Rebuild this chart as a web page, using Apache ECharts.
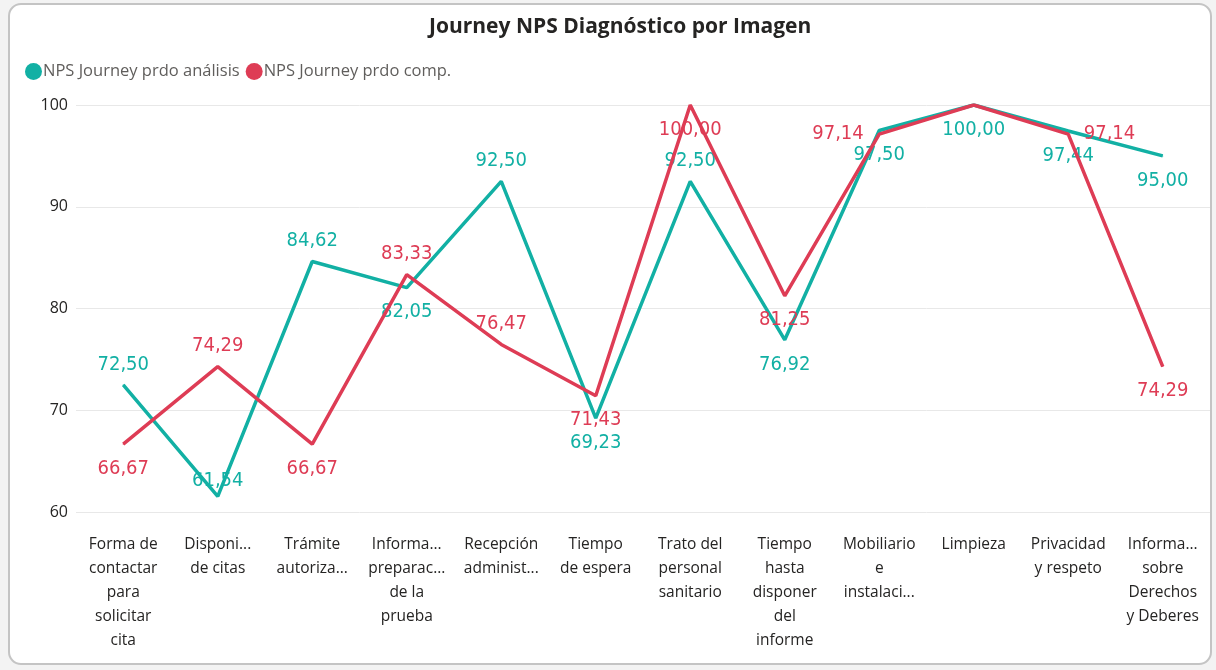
<!DOCTYPE html>
<html>
<head>
<meta charset="utf-8">
<script src="https://cdn.jsdelivr.net/npm/echarts@6/dist/echarts.min.js"></script>
<style>
  html, body { margin: 0; padding: 0; background: #f3f3f3; }
  #nps-chart { width: 1216px; height: 670px; }
</style>
</head>
<body>
<div id="nps-chart"></div>
<script>
// categorias tal como se ven en el eje (ya recortadas)
const categories = [
  "Forma de\ncontactar\npara\nsolicitar\ncita",
  "Disponi...\nde citas",
  "Trámite\nautoriza...",
  "Informa...\npreparac...\nde la\nprueba",
  "Recepción\nadminist...",
  "Tiempo\nde espera",
  "Trato del\npersonal\nsanitario",
  "Tiempo\nhasta\ndisponer\ndel\ninforme",
  "Mobiliario\ne\ninstalaci...",
  "Limpieza",
  "Privacidad\ny respeto",
  "Informa...\nsobre\nDerechos\ny Deberes"
];
const analisis = [72.50, 61.54, 84.62, 82.05, 92.50, 69.23, 92.50, 76.92, 97.50, 100.00, 97.44, 95.00];
const comp = [66.67, 74.29, 66.67, 83.33, 76.47, 71.43, 100.00, 81.25, 97.14, 100.00, 97.14, 74.29];
const yTicks = [60, 70, 80, 90, 100];

// posicion de etiqueta por punto (como en Power BI)
const posAnalisis = ["top", "top", "top", "bottom", "top", "bottom", "top", "bottom", "bottom", "bottom", "bottom", "bottom"];
const posComp = ["bottom", "top", "bottom", "top", "top", "bottom", "bottom", "bottom", "left", null, "right", "bottom"];

const TEAL = "#12b0a4";
const RED = "#de3c55";
const fmt = v => v.toFixed(2).replace(".", ",");

function buildData(values, positions, color) {
  return values.map((v, i) => {
    const p = positions[i];
    if (p === null) return { value: v, label: { show: false } };
    const side = p === "left" || p === "right";
    let dist = side ? 15 : 12;
    // el 61,54 queda pegado a la linea en el original
    if (color === TEAL && i === 1) dist = 7;
    return {
      value: v,
      label: {
        show: true,
        position: p,
        distance: dist,
        offset: [0, side ? 0 : 2],
        color: color
      }
    };
  });
}

const chart = echarts.init(document.getElementById("nps-chart"));

const labelFont = {
  show: true,
  fontFamily: "DejaVu Sans Condensed",
  fontSize: 20,
  formatter: p => fmt(p.value)
};

chart.setOption({
  animation: false,
  graphic: [
    {
      type: "rect",
      z: -10,
      shape: { x: 9, y: 4, width: 1202, height: 660, r: 12 },
      style: { fill: "#ffffff", stroke: "#c4c4c4", lineWidth: 2 }
    }
  ],
  title: {
    text: "Journey NPS Diagnóstico por Imagen",
    left: 424,
    top: 12,
    textStyle: {
      fontFamily: "Open Sans",
      fontWeight: "bold",
      fontSize: 21,
      color: "#252423"
    }
  },
  legend: {
    left: 20,
    top: 58,
    icon: "circle",
    itemWidth: 17,
    itemHeight: 17,
    itemGap: 6,
    textStyle: {
      fontFamily: "Open Sans",
      fontSize: 16.5,
      color: "#605e5c",
      padding: [0, 0, 0, -4]
    },
    data: ["NPS Journey prdo análisis", "NPS Journey prdo comp."]
  },
  grid: {
    left: 76,
    right: 6,
    top: 105,
    bottom: 158
  },
  xAxis: {
    type: "category",
    data: categories,
    boundaryGap: true,
    axisLine: { show: false },
    axisTick: { show: false },
    axisLabel: {
      interval: 0,
      margin: 21,
      fontFamily: "Open Sans",
      fontSize: 15.5,
      lineHeight: 24,
      color: "#252423"
    }
  },
  yAxis: {
    type: "value",
    min: yTicks[0],
    max: yTicks[yTicks.length - 1],
    interval: 10,
    axisLine: { show: false },
    axisTick: { show: false },
    axisLabel: {
      margin: 8,
      fontFamily: "Open Sans",
      fontSize: 16,
      color: "#252423"
    },
    splitLine: { lineStyle: { color: "#e8e8e8", width: 1 } }
  },
  series: [
    {
      name: "NPS Journey prdo análisis",
      type: "line",
      data: buildData(analisis, posAnalisis, TEAL),
      symbol: "circle",
      symbolSize: 1,
      itemStyle: { color: TEAL },
      lineStyle: { color: TEAL, width: 3.5 },
      label: labelFont,
      z: 2
    },
    {
      name: "NPS Journey prdo comp.",
      type: "line",
      data: buildData(comp, posComp, RED),
      symbol: "circle",
      symbolSize: 1,
      itemStyle: { color: RED },
      lineStyle: { color: RED, width: 3.5 },
      label: labelFont,
      z: 3
    }
  ]
});
</script>
</body>
</html>
